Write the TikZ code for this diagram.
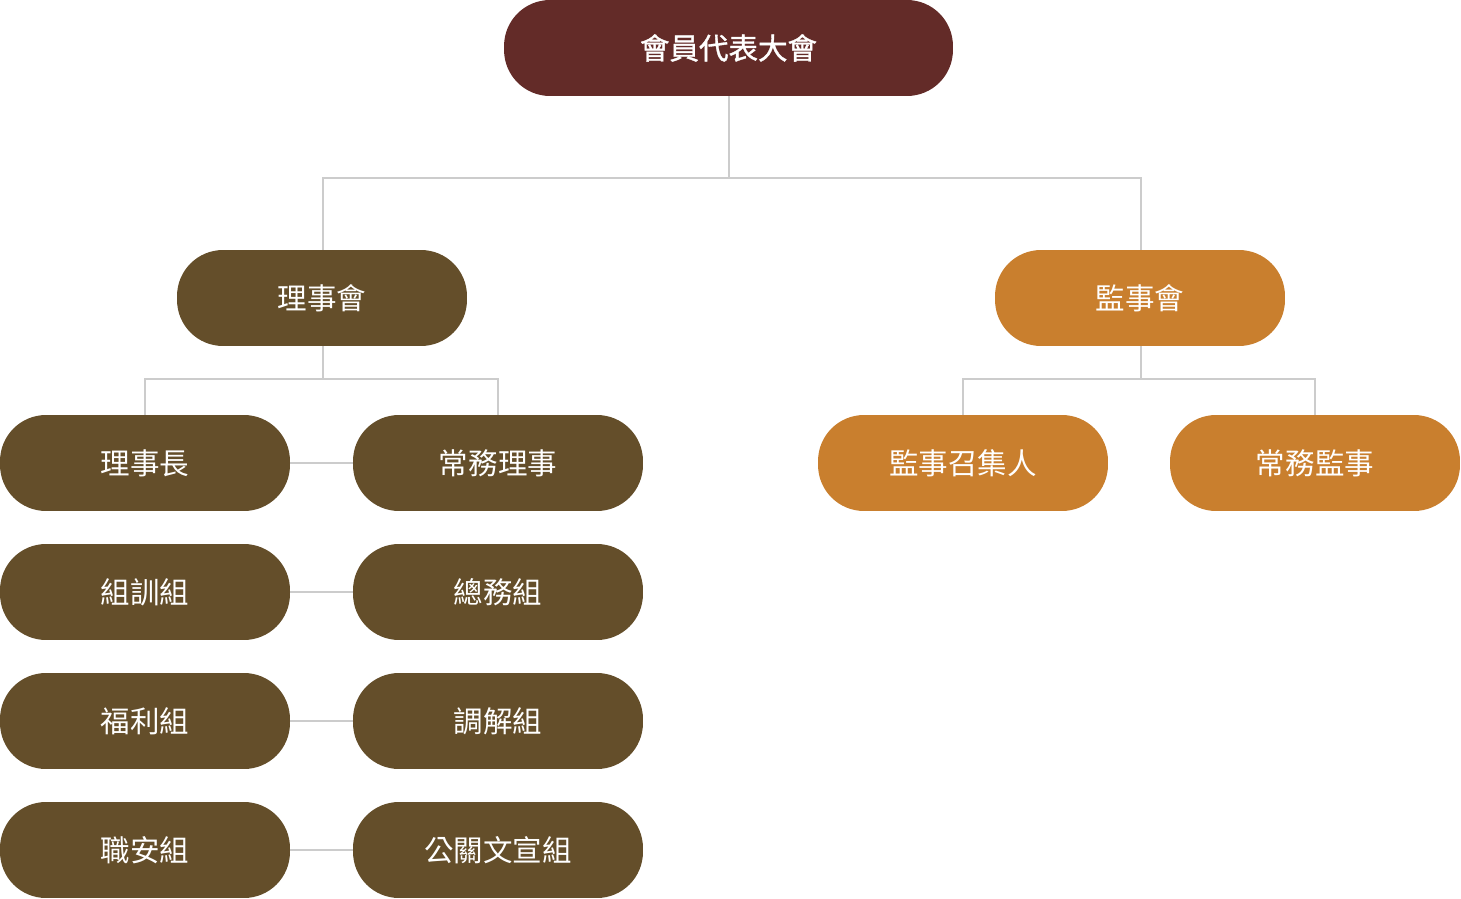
\documentclass[tikz,border=0pt]{standalone}
\usepackage{fontspec}
\setmainfont{Noto Sans CJK TC}
\newfontfamily\hyfont{Noto Sans CJK TC}[FakeBold=1.2]
\definecolor{hyred}{HTML}{632B28}
\definecolor{lsbrown}{HTML}{644E2A}
\definecolor{jsorange}{HTML}{C97F2E}
\definecolor{linegray}{HTML}{CCCCCC}
\tikzset{
  unitbox/.style={shape=rectangle,rounded corners=0.92cm,minimum width=5.8cm,minimum height=1.92cm,inner sep=0pt,text=white,font=\fontsize{16.8pt}{18pt}\selectfont},
  lsbox/.style={unitbox,fill=lsbrown},
  jsbox/.style={unitbox,fill=jsorange},
  link/.style={draw=linegray,line width=0.9pt}
}
\begin{document}
\begin{tikzpicture}[x=0.02cm,y=-0.02cm]
\useasboundingbox (0,0) rectangle (1461,899);
\node [unitbox,fill=hyred,minimum width=8.98cm,font=\hyfont\fontsize{16.8pt}{18pt}\selectfont,name=hy] at (728.5,48){會員代表大會};
\node [lsbox,name=lsh] at (322,298){理事會};
\node [jsbox,name=jsh] at (1140,298){監事會};
\node [lsbox,name=lsz] at (145,463){理事長};
\node [lsbox,name=cwls] at (498,463){常務理事};
\node [jsbox,name=jszj] at (963,463){監事召集人};
\node [jsbox,name=cwjs] at (1315,463){常務監事};
\node [lsbox,name=zx] at (145,592){組訓組};
\node [lsbox,name=zw] at (498,592){總務組};
\node [lsbox,name=fl] at (145,721){福利組};
\node [lsbox,name=tj] at (498,721){調解組};
\node [lsbox,name=za] at (145,850){職安組};
\node [lsbox,name=gg] at (498,850){公關文宣組};
\coordinate (j1) at (729,178);
\coordinate (j2) at (323,379);
\coordinate (j3) at (1141,379);
\draw[link] (hy.south -| j1)--(j1);
\draw[link] (lsh.north -| j2) |- (j1) -| (jsh.north -| j3);
\draw[link] (lsh.south -| j2)--(j2);
\draw[link] (lsz.north) |- (j2) -| (cwls.north);
\draw[link] (jsh.south -| j3)--(j3);
\draw[link] (jszj.north) |- (j3) -| (cwjs.north);
\draw[link] (lsz.east)--(cwls.west);
\draw[link] (zx.east)--(zw.west);
\draw[link] (fl.east)--(tj.west);
\draw[link] (za.east)--(gg.west);
\end{tikzpicture}
\end{document}
